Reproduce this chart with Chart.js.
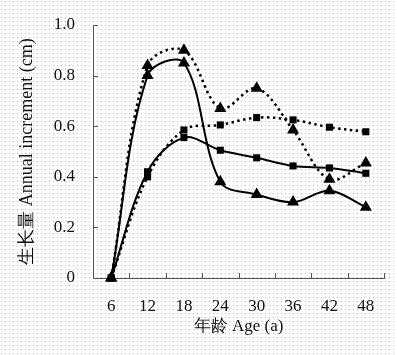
<!DOCTYPE html>
<html>
<head>
<meta charset="utf-8">
<script src="https://cdn.jsdelivr.net/npm/chart.js@4.4.1/dist/chart.umd.min.js"></script>
<style>
  html, body { margin: 0; padding: 0; }
  body { width: 397px; height: 355px; background-color: #fff; }
  #wrap { position: relative; width: 397px; height: 355px; }
</style>
</head>
<body>
<div id="wrap"><canvas id="myChart"></canvas></div>
<script>
/* data */
const ages = ['6', '12', '18', '24', '30', '36', '42', '48'];
const triSolid = [0, 0.80, 0.85, 0.38, 0.33, 0.30, 0.345, 0.28];
const triDotted = [0, 0.84, 0.90, 0.67, 0.75, 0.585, 0.39, 0.455];
const sqSolid = [0, 0.42, 0.555, 0.505, 0.475, 0.443, 0.435, 0.414];
const sqDotted = [0, 0.40, 0.585, 0.605, 0.634, 0.625, 0.596, 0.578];
const yTicks = [0, 0.2, 0.4, 0.6, 0.8, 1.0];

const serif = "'Liberation Serif', 'Times New Roman', serif";

/* dotted page background */
const dotTile = document.createElement('canvas');
dotTile.width = 4; dotTile.height = 4;
const dctx = dotTile.getContext('2d');
dctx.fillStyle = '#fff';
dctx.fillRect(0, 0, 4, 4);
dctx.fillStyle = '#bdbdbd';
dctx.fillRect(1, 1, 1, 1);
document.body.style.backgroundImage = 'url(' + dotTile.toDataURL() + ')';

/* inward tick marks, drawn off the scales */
const innerTicks = {
  id: 'innerTicks',
  afterDraw(chart) {
    const ctx = chart.ctx;
    const x = chart.scales.x, y = chart.scales.y;
    const left = chart.chartArea.left, bottom = chart.chartArea.bottom;
    ctx.save();
    ctx.strokeStyle = '#555';
    ctx.lineWidth = 1;
    ctx.beginPath();
    yTicks.forEach(v => {
      const py = Math.round(y.getPixelForValue(v)) + 0.5;
      ctx.moveTo(left, py);
      ctx.lineTo(left + 5, py);
    });
    const step = x.getPixelForValue(1) - x.getPixelForValue(0);
    for (let i = 0; i <= ages.length; i++) {
      const px = Math.round(x.getPixelForValue(0) - step / 2 + i * step) + 0.5;
      ctx.moveTo(px, bottom);
      ctx.lineTo(px, bottom - 5);
    }
    ctx.stroke();
    ctx.restore();
  }
};

const dotted = [2.5, 3.5];

const myChart = document.getElementById('myChart').getContext('2d');
const growthChart = new Chart(myChart, {
  type: 'line',
  data: {
    labels: ages,
    datasets: [
      {
        data: triDotted,
        borderColor: '#000', backgroundColor: '#000',
        borderWidth: 2.5, borderDash: dotted,
        pointStyle: 'triangle', pointRadius: 7, pointBorderWidth: 0,
        tension: 0.35
      },
      {
        data: triSolid,
        borderColor: '#000', backgroundColor: '#000',
        borderWidth: 2,
        pointStyle: 'triangle', pointRadius: 7, pointBorderWidth: 0,
        tension: 0.35
      },
      {
        data: sqDotted,
        borderColor: '#000', backgroundColor: '#000',
        borderWidth: 2.5, borderDash: dotted,
        pointStyle: 'rect', pointRadius: 5, pointBorderWidth: 0,
        tension: 0.35
      },
      {
        data: sqSolid,
        borderColor: '#000', backgroundColor: '#000',
        borderWidth: 2,
        pointStyle: 'rect', pointRadius: 5, pointBorderWidth: 0,
        tension: 0.35
      }
    ]
  },
  options: {
    responsive: true,
    maintainAspectRatio: false,
    animation: false,
    clip: false,
    layout: { padding: { top: 25, right: 13, bottom: 18, left: 16 } },
    plugins: {
      legend: { display: false },
      tooltip: { enabled: false }
    },
    scales: {
      x: {
        offset: true,
        grid: { display: false },
        border: { display: true, color: '#555', width: 1 },
        ticks: {
          color: '#111',
          font: { family: serif, size: 17 },
          padding: 10,
          maxRotation: 0
        },
        title: {
          display: true,
          text: '年龄 Age (a)',
          color: '#111',
          font: { family: serif, size: 17 },
          padding: { top: 2, bottom: 0 }
        },
        afterFit: scale => { scale.height = 59; }
      },
      y: {
        min: 0,
        max: 1.0,
        grid: { display: false },
        border: { display: true, color: '#555', width: 1 },
        ticks: {
          stepSize: 0.2,
          color: '#111',
          font: { family: serif, size: 17 },
          padding: 10,
          callback: val => (val === 0 ? '0' : val.toFixed(1))
        },
        title: {
          display: true,
          text: '生长量 Annual increment (cm)',
          color: '#111',
          font: { family: serif, size: 18 },
          padding: { top: 0, bottom: 4 }
        },
        afterFit: scale => { scale.width = 77; }
      }
    }
  },
  plugins: [innerTicks]
});
</script>
</body>
</html>
